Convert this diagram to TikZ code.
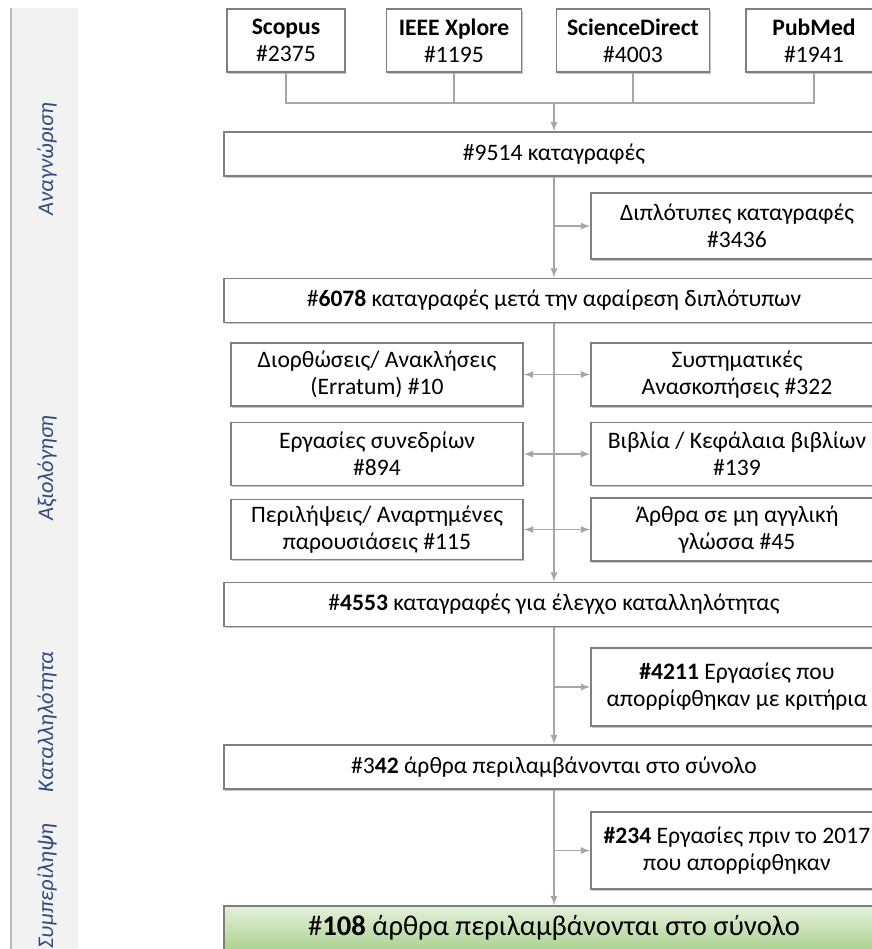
\documentclass[tikz,border=0pt]{standalone}
\usepackage{fontspec}
\setmainfont{Carlito}
\usetikzlibrary{shadows}
\definecolor{boxgray}{RGB}{127,127,127}
\definecolor{linegray}{RGB}{166,166,166}
\definecolor{lblblue}{RGB}{47,75,125}
\definecolor{bandgray}{RGB}{242,242,242}
\definecolor{greenlt}{RGB}{228,240,219}
\definecolor{greendk}{RGB}{172,210,145}

\begin{document}
\begin{tikzpicture}[x=0.5pt, y=-0.5pt,
    box/.style={draw=boxgray, line width=0.9pt, fill=white, align=center, inner sep=0pt,
        drop shadow={shadow xshift=0.5pt, shadow yshift=-0.8pt, fill=gray, opacity=0.45},
        font=\fontsize{11.8}{13.5}\selectfont},
    src/.style={box, minimum height=31.5pt},
    wide/.style={box, minimum width=330pt, minimum height=22pt},
    half/.style={box, minimum width=146pt, minimum height=31.5pt},
    conn/.style={draw=linegray, line width=0.6pt},
    phase/.style={rotate=90, text=lblblue, font=\fontsize{11.2}{13}\selectfont\itshape}]
    \clip (0,0) rectangle (872,949);

    % phase band
    \fill[bandgray] (10,8) rectangle (78,949);
    \foreach \y in {310,624,817} { \draw[gray!12, line width=0.4pt] (10,\y) -- (78,\y); }
    \draw[gray!55, line width=1.2pt] (11,8) -- (11,949);
    \node[phase] (ph1) at (47,159) {Αναγνώριση};
    \node[phase] (ph2) at (47,468) {Αξιολόγηση};
    \node[phase] (ph3) at (47,722) {Καταλληλότητα};
    \node[phase] (ph4) at (47,886) {Συμπερίληψη};

    % databases
    \node[src, minimum width=59pt] (scopus) at (286,40.5) {\textbf{Scopus}\\\#2375};
    \node[src, minimum width=67.5pt] (ieee) at (454,40.5) {\textbf{IEEE Xplore}\\\#1195};
    \node[src, minimum width=76.5pt] (sdir) at (633,40.5) {\textbf{ScienceDirect}\\\#4003};
    \node[src, minimum width=68pt] (pubmed) at (814,40.5) {\textbf{PubMed}\\\#1941};
    \coordinate (mrg) at (554,103);

    % flow
    \node[wide] (recs) at (554,154) {\#9514 καταγραφές};
    \node[half, minimum height=33pt] (dupl) at (737,226) {Διπλότυπες καταγραφές\\\#3436};
    \node[wide] (dedup) at (554,300.5) {\#\textbf{6078} καταγραφές μετά την αφαίρεση διπλότυπων};
    \node[half] (errat) at (377,374.5) {Διορθώσεις/ Ανακλήσεις\\(Erratum) \#10};
    \node[half] (sysrev) at (737,374.5) {Συστηματικές\\Ανασκοπήσεις \#322};
    \node[half] (conf) at (377,454) {Εργασίες συνεδρίων\\\#894};
    \node[half] (books) at (737,454) {Βιβλία / Κεφάλαια βιβλίων\\\#139};
    \node[half, minimum height=30pt] (abstr) at (377,529.5) {Περιλήψεις/ Αναρτημένες\\παρουσιάσεις \#115};
    \node[half] (lang) at (737,529.5) {Άρθρα σε μη αγγλική\\γλώσσα \#45};
    \node[wide] (scrn) at (554,604.5) {\#\textbf{4553} καταγραφές για έλεγχο καταλληλότητας};
    \node[half, minimum height=39pt] (excl) at (737,687) {\textbf{\#4211} Εργασίες που\\απορρίφθηκαν με κριτήρια};
    \node[wide] (elig) at (554,767) {\#3\textbf{42} άρθρα περιλαμβάνονται στο σύνολο};
    \node[half, minimum height=38.5pt] (pre) at (737,850.5) {\textbf{\#234} Εργασίες πριν το 2017\\που απορρίφθηκαν};
    \node[wide, top color=greenlt, bottom color=greendk, font=\fontsize{14.3}{16}\selectfont] (incl) at (554,928) {\#\textbf{108} άρθρα περιλαμβάνονται στο σύνολο};

    % connectors
    \draw[conn] (scopus.south) |- (pubmed.south |- mrg) -- (pubmed.south);
    \draw[conn] (ieee.south) -- (ieee.south |- mrg);
    \draw[conn] (sdir.south) -- (sdir.south |- mrg);
    \draw[conn, -latex] (mrg) -- (recs.north);
    \draw[conn, -latex] (recs) -- (dedup);
    \draw[conn, -latex] (recs.south |- dupl.west) -- (dupl.west);
    \draw[conn, -latex] (dedup) -- (scrn);
    \draw[conn, latex-latex] (errat.east) -- (sysrev.west);
    \draw[conn, latex-latex] (conf.east) -- (books.west);
    \draw[conn, latex-latex] (abstr.east) -- (lang.west);
    \draw[conn, -latex] (scrn) -- (elig);
    \draw[conn, -latex] (scrn.south |- excl.west) -- (excl.west);
    \draw[conn, -latex] (elig) -- (incl);
    \draw[conn, -latex] (elig.south |- pre.west) -- (pre.west);
\end{tikzpicture}
\end{document}
